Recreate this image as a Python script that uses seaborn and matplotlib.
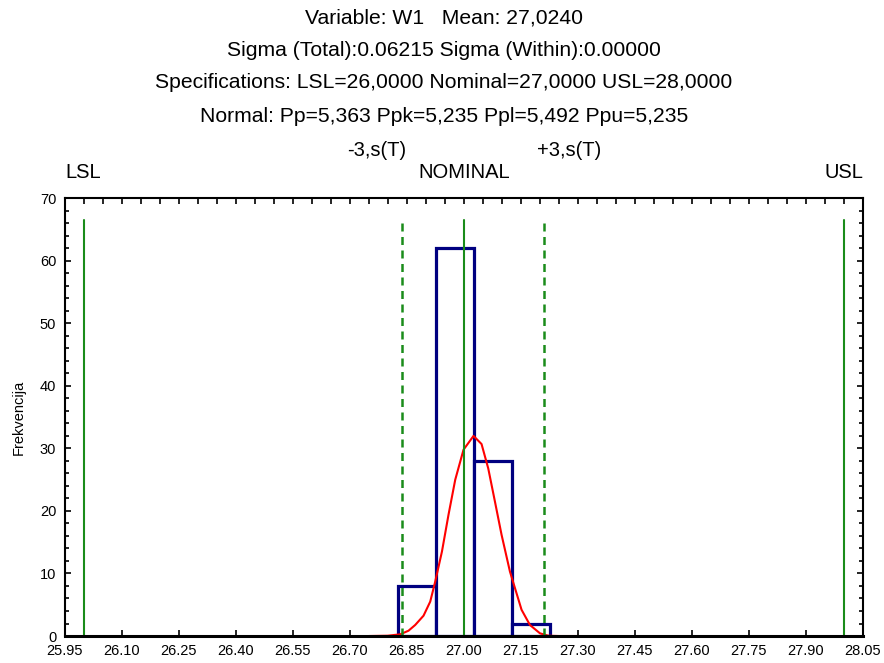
import numpy as np
import matplotlib
matplotlib.use("Agg")
import matplotlib.pyplot as plt
import matplotlib.transforms as mtrans
from matplotlib.ticker import MultipleLocator, FixedLocator
import seaborn as sns

# dados
bin_edges = [26.826, 26.926, 27.026, 27.126, 27.226]
counts = [8, 62, 28, 2]

curve_x = [26.75, 26.80, 26.8326, 26.8545, 26.872, 26.894, 26.9116, 26.9247, 26.9424,
           26.9597, 26.9774, 26.9992, 27.0255, 27.0466, 27.0642, 27.0818, 27.0992,
           27.1213, 27.1518, 27.1739, 27.2003, 27.2221, 27.25, 27.30]
curve_y = [0.0, 0.05, 0.27, 0.85, 1.76, 3.25, 5.5, 8.7, 13.5,
           19.4, 25.0, 29.8, 32.0, 30.7, 26.8, 21.5, 16.2,
           10.3, 4.2, 1.76, 0.43, 0.05, 0.0, 0.0]

lsl, nominal, usl = 26.0, 27.0, 28.0
minus3s, plus3s = 26.8376, 27.2105

x_ticks = [25.95, 26.10, 26.25, 26.40, 26.55, 26.70, 26.85, 27.00,
           27.15, 27.30, 27.45, 27.60, 27.75, 27.90, 28.05]
x_labels = ["25.95", "26.10", "26.25", "26.40", "26.55", "26.70", "26.85", "27.00",
            "27.15", "27.30", "27.45", "27.60", "27.75", "27.90", "28.05"]
y_ticks = [0, 10, 20, 30, 40, 50, 60, 70]

header = [
    "Variable: W1   Mean: 27,0240",
    "Sigma (Total):0.06215 Sigma (Within):0.00000",
    "Specifications: LSL=26,0000 Nominal=27,0000 USL=28,0000",
    "Normal: Pp=5,363 Ppk=5,235 Ppl=5,492 Ppu=5,235",
]

# estilo
sns.set_theme(style="white")
plt.rcParams['font.family'] = ['Liberation Sans', 'DejaVu Sans']
plt.rcParams['text.color'] = 'black'
plt.rcParams['axes.labelcolor'] = 'black'
plt.rcParams['xtick.color'] = 'black'
plt.rcParams['ytick.color'] = 'black'

fig = plt.figure(figsize=(8.84, 6.63), dpi=100)
ax = fig.add_axes([0.0731, 0.0407, 0.9032, 0.6602])

# histograma
centers = [(a + b) / 2 for a, b in zip(bin_edges[:-1], bin_edges[1:])]
sns.histplot(x=centers, weights=counts, bins=bin_edges, ax=ax,
             color="white", edgecolor="#000080", linewidth=2.3, alpha=1)

# curva normal
sns.lineplot(x=curve_x, y=curve_y, ax=ax, color="red", linewidth=1.5)

# linhas de especificação
for v in (lsl, nominal, usl):
    ax.axvline(v, ymax=0.95, color="#1a8c1a", linewidth=1.5)
for v in (minus3s, plus3s):
    ax.axvline(v, ymax=0.95, color="#1a8c1a", linewidth=1.8, dashes=(3.2, 2.2))

ax.set_xlim(25.95, 28.05)
ax.set_ylim(0, 70)
ax.xaxis.set_major_locator(FixedLocator(x_ticks))
ax.set_xticklabels(x_labels)
ax.xaxis.set_minor_locator(MultipleLocator(0.05))
ax.set_yticks(y_ticks)
ax.yaxis.set_minor_locator(MultipleLocator(2))

ax.tick_params(axis="x", which="major", direction="in", length=4, width=1.2,
               bottom=True, top=True, labelsize=10.5, pad=6, colors="black")
ax.tick_params(axis="x", which="minor", direction="in", length=4, width=1.2,
               bottom=False, top=True)
ax.tick_params(axis="y", which="major", direction="in", length=4, width=1.2,
               left=True, right=True, labelsize=10.5, pad=6, colors="black")
ax.tick_params(axis="y", which="minor", direction="in", length=3, width=1.2,
               left=True, right=True)

for side, sp in ax.spines.items():
    sp.set_visible(True)
    sp.set_color("black")
    sp.set_linewidth(2.2 if side == "bottom" else 1.5)

ax.set_xlabel("")
ax.set_ylabel("Frekvencija", fontsize=10.5, labelpad=10, color="black")
ax.grid(False)

# textos do cabeçalho
for txt, ypx in zip(header, [18, 50, 83, 116]):
    fig.text(0.502, 1 - ypx / 663, txt, ha="center", va="center",
             fontsize=15.2, color="black")

trans = mtrans.blended_transform_factory(ax.transData, fig.transFigure)
ax.text(minus3s - 0.068, 1 - 150 / 663, "-3,s(T)", transform=trans,
        ha="center", va="center", fontsize=14.5, color="black")
ax.text(plus3s + 0.066, 1 - 150 / 663, "+3,s(T)", transform=trans,
        ha="center", va="center", fontsize=14.5, color="black")
for v, lab in ((lsl, "LSL"), (nominal, "NOMINAL"), (usl, "USL")):
    ax.text(v, 1 - 172 / 663, lab, transform=trans,
            ha="center", va="center", fontsize=14.5, color="black")

fig.savefig("out.png", dpi=100)
